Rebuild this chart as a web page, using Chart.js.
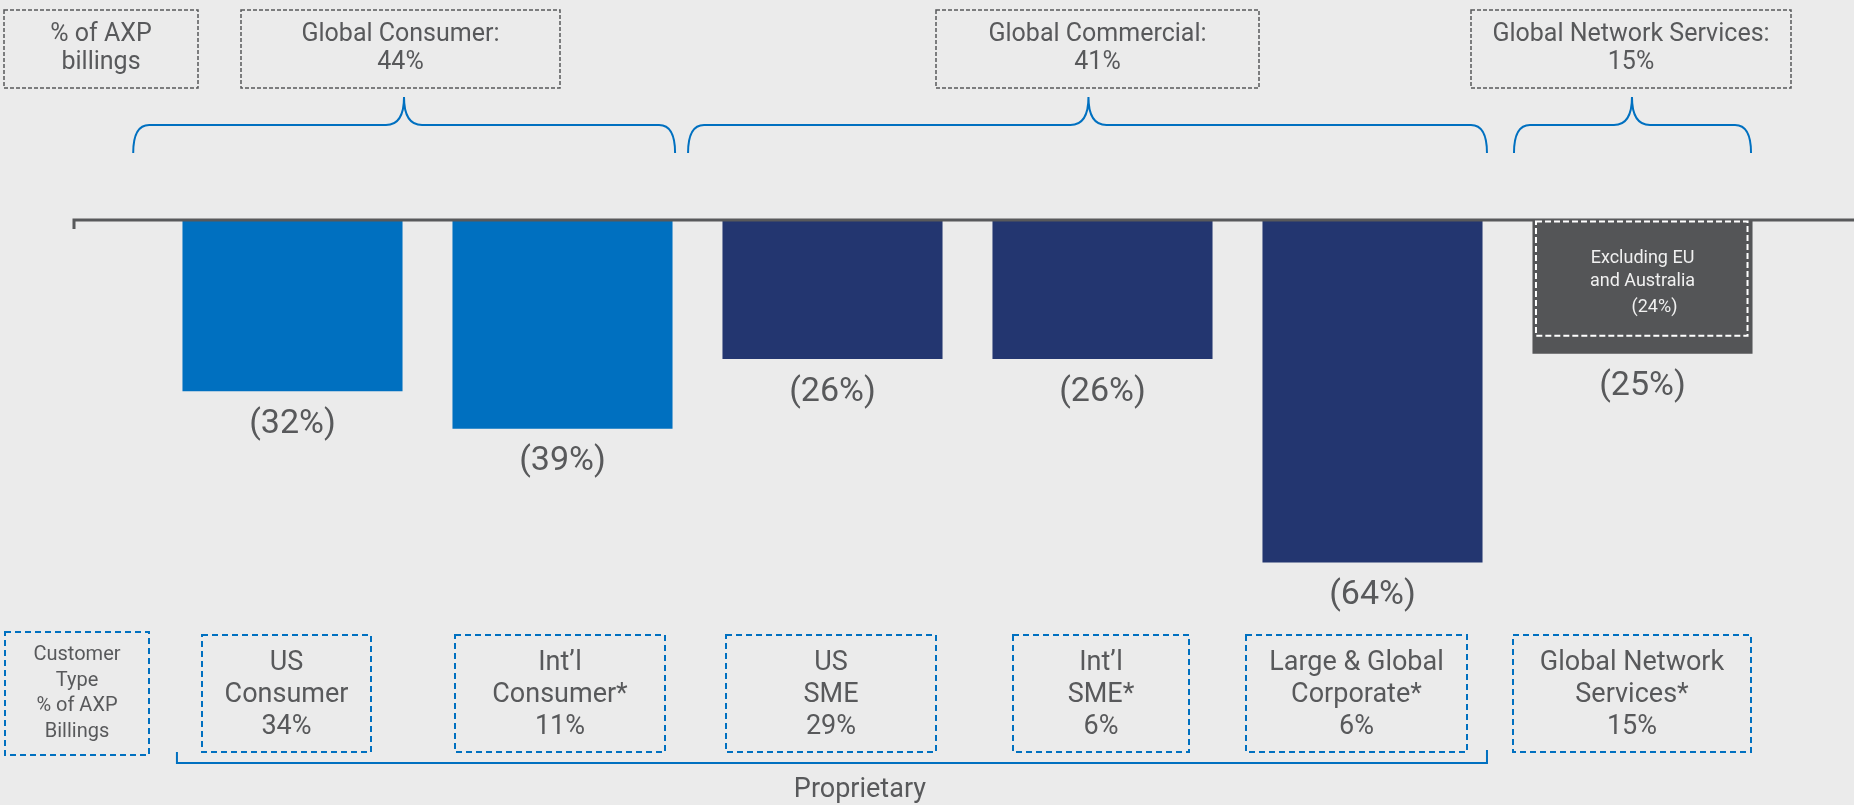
<!DOCTYPE html>
<html>
<head>
<meta charset="utf-8">
<script src="https://cdn.jsdelivr.net/npm/chart.js@4.4.1/dist/chart.umd.min.js"></script>
<style>
  html, body { margin: 0; padding: 0; background: #EBEBEB; }
  #wrap { width: 1854px; height: 805px; position: relative; }
</style>
</head>
<body>
<div id="wrap"><canvas id="chart"></canvas></div>
<script>
// Customer types and their change in billings
const categories = ['US Consumer', 'Int\u2019l Consumer', 'US SME', 'Int\u2019l SME', 'Large & Global Corporate', 'Global Network Services'];
const changeValues = [-32, -39, -26, -26, -64, -25];
const barColors = ['#0070C0', '#0070C0', '#233670', '#233670', '#233670', '#545557'];

// Share of AXP billings per customer type
const customerTypeLabels = [
  ['US', 'Consumer', '34%'],
  ['Int\u2019l', 'Consumer*', '11%'],
  ['US', 'SME', '29%'],
  ['Int\u2019l', 'SME*', '6%'],
  ['Large & Global', 'Corporate*', '6%'],
  ['Global Network', 'Services*', '15%']
];
const customerTypeHeader = ['Customer', 'Type', '% of AXP', 'Billings'];

// Business segments and their share of billings
const segmentLabels = [
  ['Global Consumer:', '44%'],
  ['Global Commercial:', '41%'],
  ['Global Network Services:', '15%']
];
const segmentHeader = ['% of AXP', 'billings'];
const proprietaryLabel = 'Proprietary';
const excludingLabel = ['Excluding EU', 'and Australia', '(24%)'];

const TEXT = '#58595B';
const BLUE = '#0070C0';
const FONT = 'Roboto, "Liberation Sans", sans-serif';

// Annotation geometry (braces in category-index units, boxes in px)
const braces = [
  { from: -0.59, to: 1.417, tip: 0.413 },
  { from: 1.465, to: 4.424, tip: 2.948 },
  { from: 4.524, to: 5.402, tip: 4.961 }
];
const segmentBoxes = [[241, 560], [936, 1259], [1471, 1791]];
const headerBox = [4, 198];
const typeBoxes = [[202, 371], [455, 665], [726, 936], [1013, 1189], [1246, 1467], [1513, 1751]];
const typeHeaderBox = [5, 149];

function dashedRect(ctx, x0, y0, x1, y1, color, width, dash) {
  ctx.save();
  ctx.strokeStyle = color;
  ctx.lineWidth = width;
  ctx.setLineDash(dash);
  ctx.strokeRect(x0, y0, x1 - x0, y1 - y0);
  ctx.restore();
}

function textLines(ctx, lines, cx, ys, size, color) {
  ctx.save();
  ctx.fillStyle = color;
  ctx.font = '400 ' + size + 'px ' + FONT;
  ctx.textAlign = 'center';
  ctx.textBaseline = 'middle';
  lines.forEach((t, i) => ctx.fillText(t, cx, ys[i]));
  ctx.restore();
}

const decorations = {
  id: 'decorations',
  beforeDraw(chart) {
    const ctx = chart.ctx;
    ctx.save();
    ctx.fillStyle = '#EBEBEB';
    ctx.fillRect(0, 0, chart.width, chart.height);
    ctx.restore();
  },
  afterDatasetsDraw(chart) {
    const ctx = chart.ctx;
    const xs = chart.scales.x, ys = chart.scales.y;
    const px = i => xs.getPixelForValue(i);
    const y0 = ys.getPixelForValue(0);
    const meta = chart.getDatasetMeta(0);

    // baseline across the chart with a small left tick
    ctx.save();
    ctx.strokeStyle = TEXT;
    ctx.lineWidth = 3;
    ctx.beginPath();
    ctx.moveTo(chart.chartArea.left - 83.5, y0 + 9);
    ctx.lineTo(chart.chartArea.left - 83.5, y0);
    ctx.lineTo(chart.width, y0);
    ctx.stroke();
    ctx.restore();

    // value labels under each bar
    meta.data.forEach((bar, i) => {
      const v = changeValues[i];
      textLines(ctx, ['(' + Math.abs(v) + '%)'], bar.x, [ys.getPixelForValue(v) + 33], 34, TEXT);
    });

    // inner dashed note in the network services bar
    const nb = meta.data[5];
    const nl = nb.x - nb.width / 2, nr = nb.x + nb.width / 2;
    dashedRect(ctx, nl + 3.5, y0 + 1.5, nr - 5, nb.y - 18, '#FFFFFF', 2, [6, 3]);
    textLines(ctx, excludingLabel.slice(0, 2), nb.x, [258, 281], 18, '#F0F0F0');
    textLines(ctx, [excludingLabel[2]], nb.x + 12, [307], 18, '#F0F0F0');

    // segment header boxes
    dashedRect(ctx, headerBox[0], 10, headerBox[1], 88, TEXT, 1.5, [4, 2]);
    textLines(ctx, segmentHeader, (headerBox[0] + headerBox[1]) / 2, [35, 63], 25, TEXT);
    segmentBoxes.forEach((b, i) => {
      dashedRect(ctx, b[0], 10, b[1], 88, TEXT, 1.5, [4, 2]);
      textLines(ctx, segmentLabels[i], (b[0] + b[1]) / 2, [35, 63], 25, TEXT);
    });

    // curly braces grouping bars into segments
    ctx.save();
    ctx.strokeStyle = BLUE;
    ctx.lineWidth = 2;
    const yB = 153, yM = 125, yT = 97, rx = 16, tx = 18;
    braces.forEach(br => {
      const a = px(br.from), b = px(br.to), t = px(br.tip);
      ctx.beginPath();
      ctx.moveTo(a, yB);
      ctx.quadraticCurveTo(a, yM, a + rx, yM);
      ctx.lineTo(t - tx, yM);
      ctx.quadraticCurveTo(t, yM, t, yT);
      ctx.quadraticCurveTo(t, yM, t + tx, yM);
      ctx.lineTo(b - rx, yM);
      ctx.quadraticCurveTo(b, yM, b, yB);
      ctx.stroke();
    });
    ctx.restore();

    // customer type boxes
    dashedRect(ctx, typeHeaderBox[0], 632, typeHeaderBox[1], 755, BLUE, 2, [6, 4]);
    textLines(ctx, customerTypeHeader, (typeHeaderBox[0] + typeHeaderBox[1]) / 2, [655, 681, 706, 732], 20, TEXT);
    typeBoxes.forEach((b, i) => {
      dashedRect(ctx, b[0], 635, b[1], 752, BLUE, 2, [6, 4]);
      textLines(ctx, customerTypeLabels[i], (b[0] + b[1]) / 2, [663, 695, 727], 27, TEXT);
    });

    // proprietary bracket
    const pa = px(-0.428), pb = px(4.424);
    ctx.save();
    ctx.strokeStyle = BLUE;
    ctx.lineWidth = 2;
    ctx.beginPath();
    ctx.moveTo(pa, 752);
    ctx.lineTo(pa, 763);
    ctx.lineTo(pb, 763);
    ctx.lineTo(pb, 750);
    ctx.stroke();
    ctx.restore();
    textLines(ctx, [proprietaryLabel], (pa + pb) / 2 + 28, [790], 27, TEXT);
  }
};

new Chart(document.getElementById('chart'), {
  type: 'bar',
  data: {
    labels: categories,
    datasets: [{
      data: changeValues,
      backgroundColor: barColors,
      borderWidth: 0,
      barPercentage: 0.815,
      categoryPercentage: 1
    }]
  },
  options: {
    responsive: true,
    maintainAspectRatio: false,
    animation: false,
    layout: { padding: { left: 157.5, right: 76.5, top: 220, bottom: 50 } },
    scales: {
      x: { display: false },
      y: { display: false, min: -100, max: 0 }
    },
    plugins: { legend: { display: false }, tooltip: { enabled: false } }
  },
  plugins: [decorations]
});
</script>
</body>
</html>
